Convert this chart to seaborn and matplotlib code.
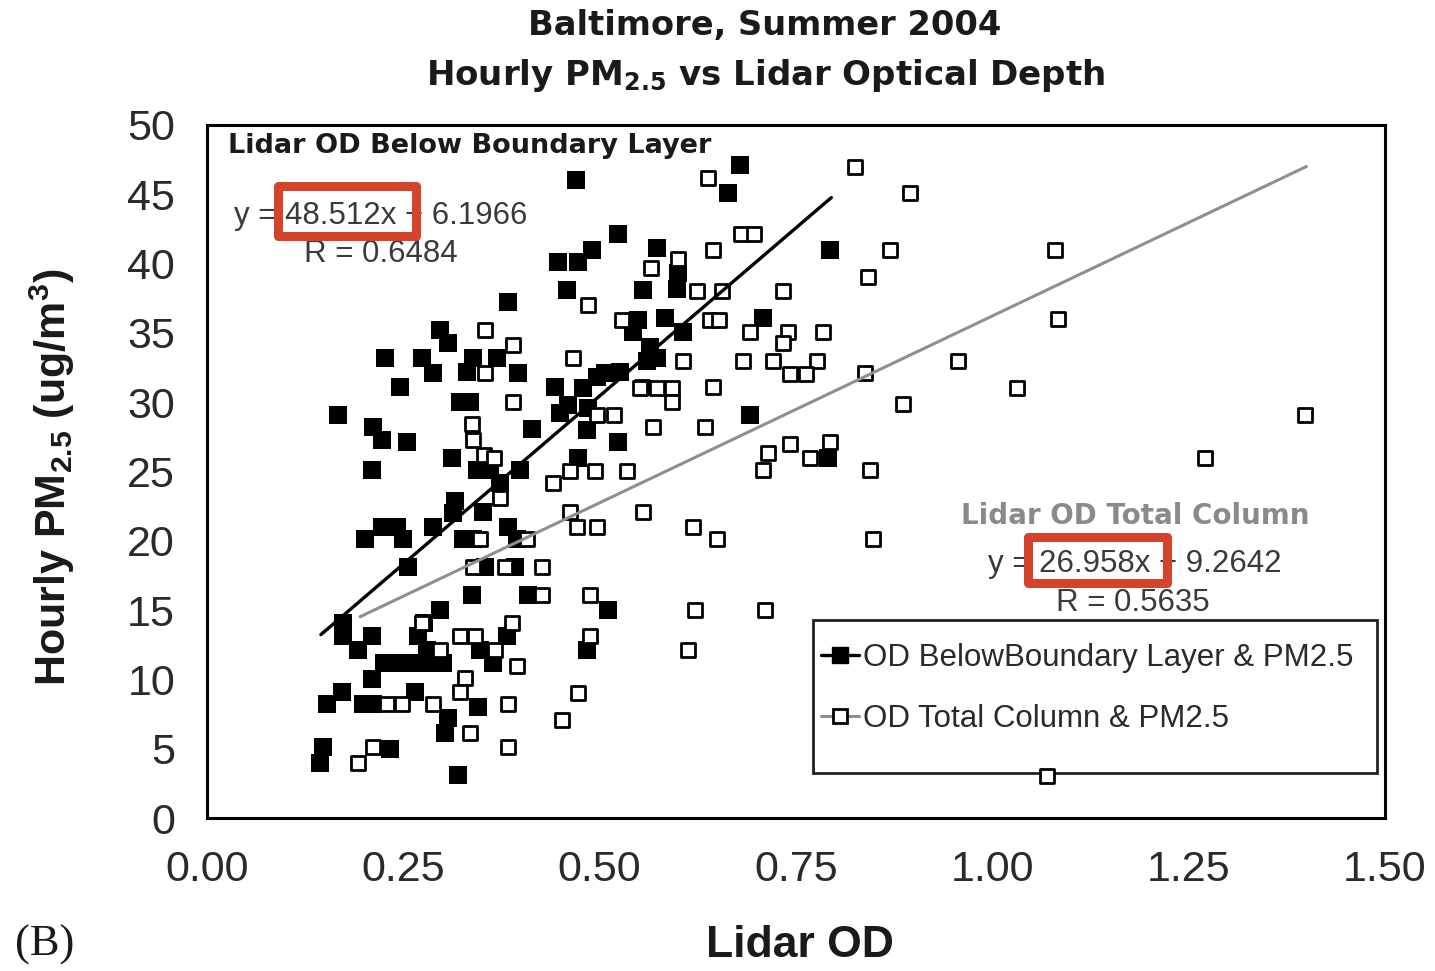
import numpy as np
import pandas as pd
import seaborn as sns
import matplotlib
matplotlib.use("Agg")
import matplotlib.pyplot as plt
from matplotlib.lines import Line2D
from matplotlib.patches import Rectangle

# ---------------- data ----------------
below_od = [0.470, 0.523, 0.490, 0.447, 0.472, 0.458, 0.555, 0.383, 0.297, 0.307,
            0.227, 0.274, 0.288, 0.331, 0.339, 0.369, 0.396, 0.246, 0.322, 0.335,
            0.167, 0.443, 0.450, 0.485, 0.507, 0.211, 0.223, 0.255, 0.414, 0.484,
            0.312, 0.472, 0.523, 0.679, 0.663, 0.573, 0.793, 0.600, 0.598, 0.549,
            0.583, 0.708, 0.543, 0.606, 0.564, 0.573, 0.560, 0.526, 0.497, 0.479,
            0.460, 0.691, 0.791, 0.210, 0.344, 0.360, 0.399, 0.373, 0.316, 0.313,
            0.351, 0.223, 0.242, 0.201, 0.250, 0.288, 0.326, 0.339, 0.383, 0.395,
            0.256, 0.354, 0.392, 0.337, 0.409, 0.511, 0.173, 0.173, 0.210, 0.192,
            0.297, 0.276, 0.269, 0.382, 0.348, 0.364, 0.225, 0.245, 0.265, 0.285,
            0.300, 0.280, 0.484, 0.210, 0.153, 0.172, 0.199, 0.211, 0.265, 0.345,
            0.307, 0.303, 0.148, 0.144, 0.233, 0.320]
below_pm = [46.0, 42.1, 41.0, 40.1, 40.1, 38.1, 38.1, 37.2, 35.2, 34.3,
            33.2, 33.2, 32.1, 32.2, 33.2, 33.2, 32.1, 31.1, 30.0, 30.0,
            29.1, 31.1, 29.2, 29.6, 32.1, 28.2, 27.3, 27.1, 28.1, 28.0,
            26.0, 26.0, 27.1, 47.1, 45.1, 41.1, 41.0, 39.3, 38.2, 35.9,
            36.1, 36.1, 35.1, 35.1, 34.0, 33.2, 33.0, 32.2, 31.8, 31.0,
            29.8, 29.1, 26.0, 25.1, 25.1, 25.1, 25.1, 24.2, 22.9, 22.0,
            22.1, 21.0, 21.0, 20.1, 20.1, 21.0, 20.1, 20.1, 21.0, 20.1,
            18.1, 18.1, 18.1, 16.1, 16.1, 15.0, 14.1, 13.1, 13.1, 12.1,
            15.0, 14.1, 13.1, 13.1, 12.1, 11.2, 11.2, 11.2, 11.2, 11.2,
            11.2, 12.1, 12.1, 10.0, 8.2, 9.1, 8.2, 8.2, 9.1, 8.0,
            7.2, 6.1, 5.1, 4.0, 5.0, 3.1]

total_od = [0.565, 0.485, 0.529, 0.354, 0.390, 0.466, 0.354, 0.554, 0.390, 0.337,
            0.497, 0.518, 0.339, 0.353, 0.366, 0.638, 0.825, 0.895, 0.680, 0.697,
            0.644, 0.870, 0.842, 0.600, 0.734, 0.624, 0.656, 0.641, 0.652, 0.691,
            0.740, 0.784, 0.734, 0.606, 0.683, 0.721, 0.777, 0.742, 0.763, 0.838,
            0.551, 0.573, 0.592, 0.592, 0.644, 0.886, 0.568, 0.634, 0.742, 0.793,
            0.714, 0.768, 0.708, 0.844, 0.462, 0.494, 0.535, 0.441, 0.555, 0.462,
            0.471, 0.497, 0.373, 0.348, 0.407, 0.619, 0.649, 0.848, 0.339, 0.379,
            0.427, 0.427, 0.488, 0.621, 0.711, 0.274, 0.388, 0.488, 0.322, 0.341,
            0.297, 0.367, 0.395, 0.612, 0.329, 0.322, 0.229, 0.248, 0.288, 0.383,
            0.472, 0.452, 0.335, 0.383, 0.211, 0.192, 0.956, 1.031, 1.080, 1.084,
            1.271, 1.398, 1.070]
total_pm = [39.7, 37.0, 35.9, 35.2, 34.1, 33.2, 32.1, 31.1, 30.0, 28.4,
            29.1, 29.1, 27.3, 26.2, 26.0, 46.2, 47.0, 45.1, 42.1, 42.1,
            41.0, 41.0, 39.0, 40.3, 38.0, 38.0, 38.0, 35.9, 35.9, 35.1,
            35.1, 35.1, 34.3, 33.0, 33.0, 33.0, 33.0, 32.0, 32.0, 32.1,
            31.0, 31.0, 31.0, 30.0, 31.1, 29.9, 28.2, 28.2, 27.0, 27.1,
            26.3, 26.0, 25.1, 25.1, 25.0, 25.0, 25.0, 24.2, 22.1, 22.1,
            21.0, 21.0, 23.1, 20.1, 20.1, 21.0, 20.1, 20.1, 18.1, 18.1,
            18.1, 16.1, 16.1, 15.0, 15.0, 14.1, 14.1, 13.1, 13.1, 13.1,
            12.1, 12.1, 11.0, 12.1, 10.1, 9.1, 8.2, 8.2, 8.2, 8.2,
            9.0, 7.1, 6.1, 5.1, 5.1, 4.0, 33.0, 31.0, 41.0, 36.0,
            26.0, 29.1, 3.0]

# trend-line coefficients (from the chart) and their x-extent
below_slope, below_intercept = 48.512, 6.1966
below_xrange = [0.145, 0.795]
total_slope, total_intercept = 26.958, 9.2642
total_xrange = [0.195, 1.400]

x_ticks = [0.00, 0.25, 0.50, 0.75, 1.00, 1.25, 1.50]
y_ticks = [0, 5, 10, 15, 20, 25, 30, 35, 40, 45, 50]

# ---------------- style ----------------
sns.set_style("white")
plt.rcParams["font.family"] = ["Liberation Sans", "DejaVu Sans"]
plt.rcParams["mathtext.default"] = "regular"

W, H = 1435, 971
fig = plt.figure(figsize=(W / 100, H / 100), dpi=100)
fx = lambda px: px / W
fy = lambda py: 1 - py / H

ax = fig.add_axes([fx(207), fy(818), fx(1385) - fx(207), fy(125) - fy(818)])

df_below = pd.DataFrame({"od": below_od, "pm": below_pm})
df_total = pd.DataFrame({"od": total_od, "pm": total_pm})

sns.scatterplot(data=df_below, x="od", y="pm", marker="s", s=150, color="black",
                edgecolor="black", linewidth=0, ax=ax, zorder=3, legend=False)
sns.scatterplot(data=df_total, x="od", y="pm", marker="s", s=115, color="white",
                edgecolor="black", linewidth=2.0, ax=ax, zorder=4, legend=False)

xb = np.array(below_xrange)
xt = np.array(total_xrange)
sns.lineplot(x=xb, y=below_slope * xb + below_intercept, color="black", lw=2.4,
             ax=ax, zorder=6, legend=False)
sns.lineplot(x=xt, y=total_slope * xt + total_intercept, color="#8f8f8f", lw=2.2,
             ax=ax, zorder=5, legend=False)

ax.set_xlim(0, 1.5)
ax.set_ylim(0, 50)
ax.set_xticks(x_ticks)
ax.set_xticklabels([f"{v:.2f}" for v in x_ticks])
ax.set_yticks(y_ticks)
ax.set_yticklabels([str(v) for v in y_ticks])
ax.set_xlabel("")
ax.set_ylabel("")
for sp in ax.spines.values():
    sp.set_visible(True)
    sp.set_color("black")
    sp.set_linewidth(2.2)
ax.tick_params(axis="both", direction="out", length=8, width=2.0, color="black",
               labelsize=31, labelcolor="#2a2a2a", pad=15)

# ---------------- titles / labels ----------------
title_font = ["DejaVu Sans"]
fig.text(fx(765), fy(25), "Baltimore, Summer 2004", ha="center", va="center",
         fontsize=24.2, fontweight="bold", color="#1a1a1a", family=title_font)
fig.text(fx(766), fy(75), "Hourly PM$_{2.5}$ vs Lidar Optical Depth", ha="center",
         va="center", fontsize=24.5, fontweight="bold", color="#1a1a1a", family=title_font)
fig.text(fx(52), fy(477), "Hourly PM$_{2.5}$ (ug/m$^{3}$)", rotation=90,
         ha="center", va="center", fontsize=31, fontweight="bold", color="#1a1a1a")
fig.text(fx(800), fy(945), "Lidar OD", ha="center", va="center", fontsize=32,
         fontweight="bold", color="#1a1a1a")
fig.text(fx(15), fy(945), "(B)", ha="left", va="center", fontsize=32,
         family=["Liberation Serif", "DejaVu Serif"], color="#1a1a1a")

# ---------------- in-plot annotations ----------------
fig.text(fx(228), fy(146), "Lidar OD Below Boundary Layer", ha="left", va="center",
         fontsize=19.5, fontweight="bold", color="#1a1a1a", family=title_font)
fig.text(fx(381), fy(216), "y = 48.512x + 6.1966", ha="center", va="center",
         fontsize=22.5, color="#3a3a3a")
fig.text(fx(381), fy(254), "R = 0.6484", ha="center", va="center",
         fontsize=22.5, color="#3a3a3a")
fig.text(fx(1135), fy(516), "Lidar OD Total Column", ha="center", va="center",
         fontsize=20, fontweight="bold", color="#8a8a8a", family=title_font)
fig.text(fx(1135), fy(564), "y = 26.958x + 9.2642", ha="center", va="center",
         fontsize=22.5, color="#3a3a3a")
fig.text(fx(1133), fy(603), "R = 0.5635", ha="center", va="center",
         fontsize=22.5, color="#3a3a3a")

# red highlight boxes
red = "#d4432c"
for (x0, y0, x1, y1) in [(278, 186, 416, 236), (1028, 537, 1167, 583)]:
    fig.patches.append(Rectangle((fx(x0), fy(y1)), fx(x1) - fx(x0), fy(y0) - fy(y1),
                                 transform=fig.transFigure, fill=False,
                                 edgecolor=red, linewidth=6.5, zorder=10,
                                 joinstyle="round"))

# ---------------- legend ----------------
ax.add_patch(Rectangle((fx(813), fy(773)), fx(1377) - fx(813), fy(620) - fy(773),
                       transform=fig.transFigure, fill=True, facecolor="white",
                       edgecolor="#222222", linewidth=2.0, zorder=2, clip_on=False))
handles = [
    Line2D([0], [0], color="black", lw=2.4, marker="s", markersize=11,
           markerfacecolor="black", markeredgecolor="black"),
    Line2D([0], [0], color="#8f8f8f", lw=2.2, marker="s", markersize=10,
           markerfacecolor="white", markeredgecolor="black", markeredgewidth=2.0),
]
labels = ["OD BelowBoundary Layer & PM2.5", "OD Total Column & PM2.5"]
leg = ax.legend(handles, labels, loc="upper left",
                bbox_to_anchor=(fx(821), fy(643)), bbox_transform=fig.transFigure,
                frameon=False, fontsize=22.5, handlelength=1.2, handletextpad=0.15,
                labelspacing=1.0, borderaxespad=0, borderpad=0)
leg.set_zorder(8)
for t in leg.get_texts():
    t.set_color("#2a2a2a")

fig.savefig("out.png", dpi=100, facecolor="white")
